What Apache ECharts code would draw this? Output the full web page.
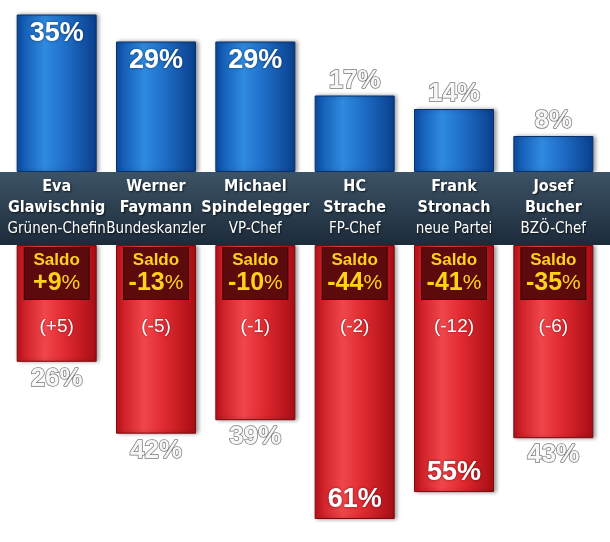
<!DOCTYPE html>
<html>
<head>
<meta charset="utf-8">
<script src="https://cdn.jsdelivr.net/npm/echarts@6/dist/echarts.min.js"></script>
<style>html,body{margin:0;padding:0;background:#fff}#main{width:610px;height:542px}</style>
</head>
<body>
<div id="main"></div>
<script>
var names = ['Eva\nGlawischnig', 'Werner\nFaymann', 'Michael\nSpindelegger', 'HC\nStrache', 'Frank\nStronach', 'Josef\nBucher'];
var roles = ['Grünen-Chefin', 'Bundeskanzler', 'VP-Chef', 'FP-Chef', 'neue Partei', 'BZÖ-Chef'];
var positive = [35, 29, 29, 17, 14, 8];
var negative = [26, 42, 39, 61, 55, 43];
var saldo = ['+9', '-13', '-10', '-44', '-41', '-35'];
var change = ['(+5)', '(-5)', '(-1)', '(-2)', '(-12)', '(-6)'];

var myChart = echarts.init(document.getElementById('main'));

var blue = new echarts.graphic.LinearGradient(0, 0, 1, 0, [
    { offset: 0, color: '#0b4fa8' }, { offset: 0.35, color: '#2f8ae0' },
    { offset: 0.6, color: '#1f6fc9' }, { offset: 1, color: '#0a3f8c' }
]);
var red = new echarts.graphic.LinearGradient(0, 0, 1, 0, [
    { offset: 0, color: '#c2121b' }, { offset: 0.35, color: '#f0464b' },
    { offset: 0.6, color: '#e02a30' }, { offset: 1, color: '#a80d14' }
]);

var bigWhite = { color: '#fff', fontSize: 27, fontWeight: 'bold', fontFamily: 'Liberation Sans',
    textShadowColor: 'rgba(0,0,0,0.5)', textShadowBlur: 3 };
var lightGray = { color: '#f7f7f7', fontSize: 26, fontWeight: 'bold', fontFamily: 'Liberation Sans',
    textBorderColor: '#7a7a7a', textBorderWidth: 1.5 };

var posData = positive.map(function (v) {
    var inside = v >= 25;
    return { value: v, label: Object.assign({ show: true, position: inside ? 'insideTop' : 'top',
        distance: inside ? 6 : 2, formatter: '{c}%' }, inside ? bigWhite : lightGray) };
});
var negBottom = negative.map(function (v) {
    var inside = v >= 50;
    return { value: v, label: Object.assign({ show: true, position: inside ? 'insideBottom' : 'bottom',
        distance: inside ? 6 : 4, formatter: '{c}%' }, inside ? bigWhite : lightGray) };
});

var bandFont = 'DejaVu Sans Condensed, Liberation Sans';
option = {
    animation: false,
    grid: [
        { left: 7, width: 596, top: 1, height: 171 },
        { left: 7, width: 596, top: 245, height: 292 }
    ],
    graphic: [{
        type: 'rect', shape: { x: 0, y: 172, width: 610, height: 73 }, z: 10,
        style: { fill: new echarts.graphic.LinearGradient(0, 0, 0, 1, [
            { offset: 0, color: '#3c5366' }, { offset: 1, color: '#1c2b3a' }]) }
    }],
    xAxis: [
        { gridIndex: 0, type: 'category', data: names, show: false },
        { gridIndex: 1, type: 'category', data: names, position: 'top', z: 20,
          axisLine: { show: false }, axisTick: { show: false },
          axisLabel: { margin: 5, interval: 0,
            formatter: function (v, i) { return '{n|' + v + '}\n{r|' + roles[i] + '}'; },
            rich: {
                n: { color: '#fff', fontSize: 16, fontWeight: 'bold', lineHeight: 21, fontFamily: bandFont, align: 'center',
                     textShadowColor: 'rgba(0,0,0,0.7)', textShadowBlur: 2, textShadowOffsetX: 1, textShadowOffsetY: 1 },
                r: { color: '#fff', fontSize: 15, lineHeight: 22, fontFamily: bandFont, align: 'center',
                     textShadowColor: 'rgba(0,0,0,0.7)', textShadowBlur: 2, textShadowOffsetX: 1, textShadowOffsetY: 1 }
            } } }
    ],
    yAxis: [
        { gridIndex: 0, type: 'value', min: 0, max: 38, show: false },
        { gridIndex: 1, type: 'value', min: 0, max: 65, inverse: true, show: false }
    ],
    series: [
        { type: 'bar', xAxisIndex: 0, yAxisIndex: 0, barWidth: 80, data: posData,
          itemStyle: { color: blue, borderColor: '#08306b', borderWidth: 1, shadowColor: 'rgba(0,0,0,0.4)', shadowBlur: 4, shadowOffsetX: 2 } },
        { type: 'bar', xAxisIndex: 1, yAxisIndex: 1, barWidth: 80, data: negBottom,
          itemStyle: { color: red, borderColor: '#7a0a0e', borderWidth: 1, shadowColor: 'rgba(0,0,0,0.4)', shadowBlur: 4, shadowOffsetX: 2 } },
        { type: 'bar', xAxisIndex: 1, yAxisIndex: 1, barWidth: 80, barGap: '-100%', data: negative,
          itemStyle: { color: 'rgba(0,0,0,0)' }, z: 5,
          label: { show: true, position: 'insideTop', distance: 3,
            formatter: function (p) { return '{s|Saldo}\n{v|' + saldo[p.dataIndex] + '}{p|%}'; },
            backgroundColor: '#5c0a0c', borderColor: '#3a0405', borderWidth: 1, padding: [2, 5, 2, 5], width: 54,
            rich: {
                s: { color: '#ffd21a', fontSize: 17, fontWeight: 'bold', fontFamily: 'Liberation Sans', lineHeight: 20, align: 'center' },
                v: { color: '#ffd21a', fontSize: 25, fontWeight: 'bold', fontFamily: 'Liberation Sans', lineHeight: 27 },
                p: { color: '#ffd21a', fontSize: 21, fontFamily: 'Liberation Sans', lineHeight: 27 }
            } } },
        { type: 'bar', xAxisIndex: 1, yAxisIndex: 1, barWidth: 80, barGap: '-100%', data: negative,
          itemStyle: { color: 'rgba(0,0,0,0)' }, z: 5,
          label: { show: true, position: 'insideTop', offset: [0, 67],
            formatter: function (p) { return change[p.dataIndex]; },
            color: '#fff', fontSize: 19, fontFamily: 'Liberation Sans', textShadowColor: 'rgba(0,0,0,0.5)', textShadowBlur: 2 } }
    ]
};
myChart.setOption(option);
</script>
</body>
</html>
